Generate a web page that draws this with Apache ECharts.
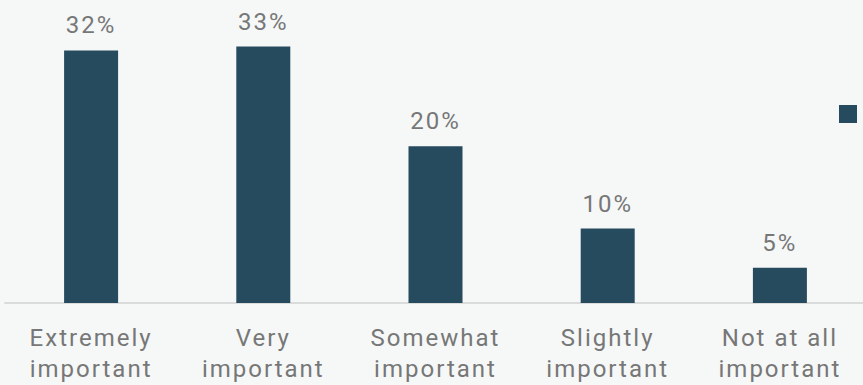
<!DOCTYPE html>
<html>
<head>
<meta charset="utf-8">
<script src="https://cdn.jsdelivr.net/npm/echarts@6/dist/echarts.min.js"></script>
<style>
html,body{margin:0;padding:0;background:#f6f8f8;}
#chart{width:863px;height:385px;}
#chart text{letter-spacing:2px;}
</style>
</head>
<body>
<div id="chart"></div>
<script>
const categories = ["Extremely\nimportant", "Very\nimportant", "Somewhat\nimportant", "Slightly\nimportant", "Not at all\nimportant"];
const values = [32.2, 32.7, 20.0, 9.5, 4.5];
const seriesName = "Importance";

const chart = echarts.init(document.getElementById('chart'), null, {renderer: 'svg'});
chart.setOption({
  backgroundColor: '#f6f8f8',
  animation: false,
  legend: {
    left: 834, top: 100,
    itemWidth: 18, itemHeight: 18,
    icon: 'rect',
    formatter: () => '',
    data: [seriesName]
  },
  grid: {left: 5, width: 861, top: 5, bottom: 82, containLabel: false, outerBoundsMode: 'none'},
  xAxis: {
    type: 'category',
    data: categories,
    axisLine: {show: true, lineStyle: {color: '#dadcdc', width: 2}},
    axisTick: {show: false},
    axisLabel: {
      color: '#777777', fontFamily: 'Roboto', fontSize: 24, lineHeight: 31,
      margin: 19, interval: 0
    }
  },
  yAxis: {
    type: 'value', min: 0, max: 38,
    show: false,
    splitLine: {show: false}
  },
  series: [{
    name: seriesName,
    type: 'bar',
    data: values,
    barWidth: 54,
    itemStyle: {color: '#264a5e'},
    label: {
      show: true, position: 'top', distance: 13,
      color: '#777777', fontFamily: 'Roboto', fontSize: 24,
      formatter: p => Math.round(p.value) + '%'
    }
  }]
});
</script>
</body>
</html>
